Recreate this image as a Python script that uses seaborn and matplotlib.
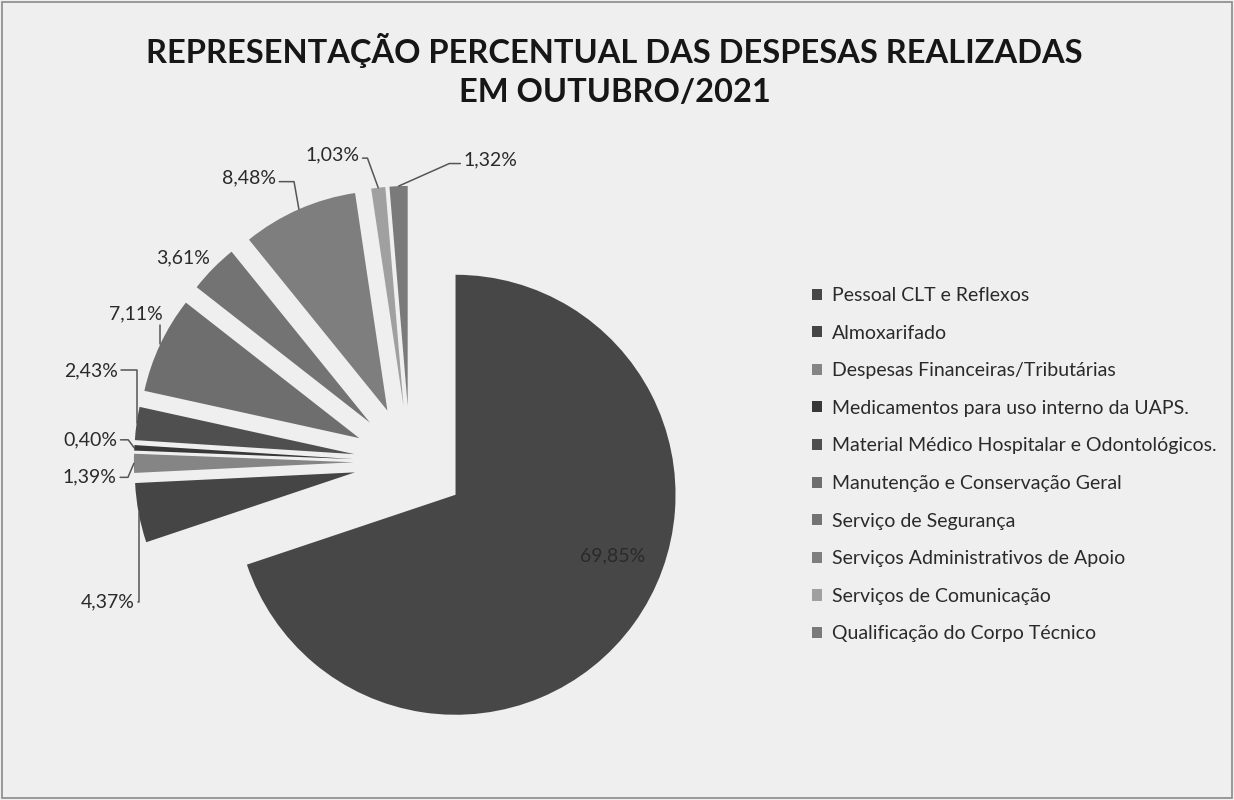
import matplotlib
matplotlib.use("Agg")
import matplotlib.pyplot as plt
import seaborn as sns
import numpy as np
from matplotlib.patches import Rectangle

# --- dados ---
categorias = [
    'Pessoal CLT e Reflexos',
    'Almoxarifado',
    'Despesas Financeiras/Tributárias',
    'Medicamentos para uso interno da UAPS.',
    'Material Médico Hospitalar e Odontológicos.',
    'Manutenção e Conservação Geral',
    'Serviço de Segurança',
    'Serviços Administrativos de Apoio',
    'Serviços de Comunicação',
    'Qualificação do Corpo Técnico',
]
percentuais = [69.85, 4.37, 1.39, 0.40, 2.43, 7.11, 3.61, 8.48, 1.03, 1.32]
cores = ['#474747', '#454545', '#858585', '#383838', '#4f4f4f',
         '#6e6e6e', '#737373', '#7e7e7e', '#a0a0a0', '#7a7a7a']

# deslocamento dos rotulos (pixels) em relacao a borda da fatia
offsets = [(-21, 67), (-31, -89), (-44, -14), (-44, 8), (-46, 53),
           (-24, 31), (-30, 11), (-50, 31), (-46, 33), (92, 26)]
# ponto de saida da linha de chamada no rotulo e angulo do trecho junto a fatia
relpos = [None, (1, 0.5), (1, 0.5), (1, 0.5), (1, 0.5),
          (0.9, 0.0), None, (1, 0.3), (1, 0.3), (0, 0.3)]
angulos = [None, 90, -113, 127, 90, 90, None, 100, 110, 24]

# --- grafico ---
sns.set_theme(style="white")
plt.rcParams['font.family'] = ['Lato', 'DejaVu Sans']
bg = '#efefef'

fig = plt.figure(figsize=(12.34, 8), dpi=100, facecolor=bg)
ax = fig.add_axes([0, 0, 1, 1])
ax.set_facecolor(bg)

R = 220.0  # raio em pixels
cx, cy = 410.0, 462.0  # centro da pizza (pixels, origem no topo)

wedges, _ = ax.pie(percentuais, colors=cores, explode=[0.255] * len(percentuais),
                   startangle=90, counterclock=False, radius=1,
                   wedgeprops=dict(linewidth=0))
ax.set_xlim(-cx / R, (1234 - cx) / R)
ax.set_ylim(-(800 - cy) / R, cy / R)
ax.set_aspect('equal')
ax.axis('off')

for w, v, off, rp, ang in zip(wedges, percentuais, offsets, relpos, angulos):
    mid = np.deg2rad((w.theta1 + w.theta2) / 2)
    xy = (w.center[0] + w.r * np.cos(mid), w.center[1] + w.r * np.sin(mid))
    txt = f"{v:.2f}%".replace('.', ',')
    arrow = None
    if rp is not None:
        arrow = dict(arrowstyle='-', color='#555555', lw=1.1,
                     shrinkA=0, shrinkB=0, relpos=rp,
                     connectionstyle=f"angle,angleA=0,angleB={ang},rad=0")
    ax.annotate(txt, xy=xy, xytext=off, textcoords='offset pixels',
                ha='center', va='center', fontsize=14, color='#2a2a2a',
                arrowprops=arrow)

# titulo
fig.text(0.498, 1 - 50 / 800, 'REPRESENTAÇÃO PERCENTUAL DAS DESPESAS REALIZADAS',
         ha='center', va='center', fontsize=23.5, fontweight='bold', color='#161616')
fig.text(0.498, 1 - 93 / 800, 'EM OUTUBRO/2021',
         ha='center', va='center', fontsize=23.5, fontweight='bold', color='#161616')

# legenda
ax.legend(wedges, categorias, loc='upper left',
          bbox_to_anchor=(812 / 1234, 1 - 287 / 800), bbox_transform=fig.transFigure,
          frameon=False, fontsize=14, labelspacing=1.06, handlelength=0.5,
          handleheight=0.5, handletextpad=0.55, borderpad=0, borderaxespad=0,
          labelcolor='#2a2a2a')

# moldura
fig.patches.append(Rectangle((0.002, 0.002), 0.996, 0.995, transform=fig.transFigure,
                             fill=False, edgecolor='#8a8a8a', lw=1.2))

fig.savefig('out.png', dpi=100, facecolor=bg)
